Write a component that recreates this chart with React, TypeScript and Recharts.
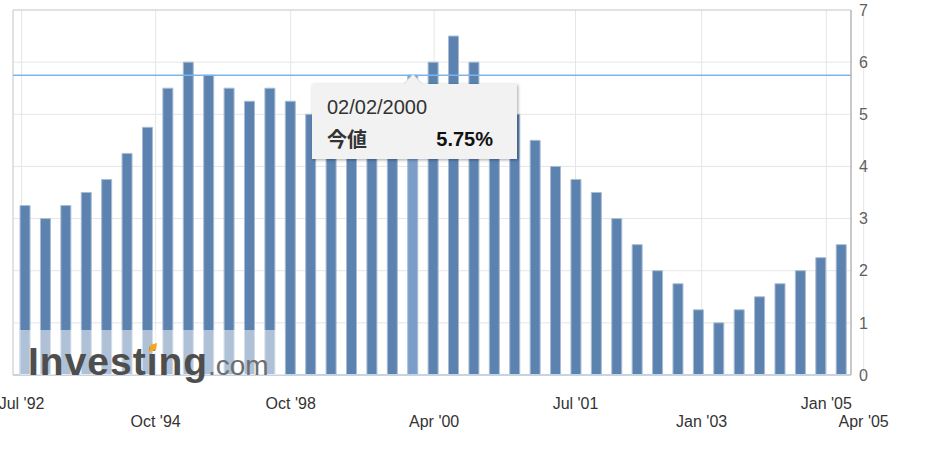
import {
  Bar,
  BarChart,
  CartesianGrid,
  Cell,
  ReferenceArea,
  ReferenceLine,
  Tooltip,
  XAxis,
  YAxis,
} from 'recharts';

// Fed funds target rate changes, Jul 1992 – Feb 2005
const dates = [
  '07/02/1992', '09/04/1992', '02/04/1994', '03/22/1994', '04/18/1994', '05/17/1994',
  '08/16/1994', '11/15/1994', '02/01/1995', '07/06/1995', '12/19/1995', '01/31/1996',
  '03/25/1997', '09/29/1998', '10/15/1998', '11/17/1998', '06/30/1999', '08/24/1999',
  '11/16/1999', '02/02/2000', '03/21/2000', '05/16/2000', '01/03/2001', '01/31/2001',
  '03/20/2001', '04/18/2001', '05/15/2001', '06/27/2001', '08/21/2001', '09/17/2001',
  '10/02/2001', '11/06/2001', '12/11/2001', '11/06/2002', '06/25/2003', '06/30/2004',
  '08/10/2004', '09/21/2004', '11/10/2004', '12/14/2004', '02/02/2005',
];
const rates = [
  3.25, 3.0, 3.25, 3.5, 3.75, 4.25, 4.75, 5.5, 6.0, 5.75, 5.5, 5.25, 5.5, 5.25, 5.0, 4.75,
  5.0, 5.25, 5.5, 5.75, 6.0, 6.5, 6.0, 5.5, 5.0, 4.5, 4.0, 3.75, 3.5, 3.0, 2.5, 2.0, 1.75,
  1.25, 1.0, 1.25, 1.5, 1.75, 2.0, 2.25, 2.5,
];
// x ticks sit between bars (positions in bar-index units)
const xTickPos = [-0.18, 6.39, 13.01, 20.04, 26.97, 33.15, 39.26, 41.09];
const xTickLabels = ["Jul '92", "Oct '94", "Oct '98", "Apr '00", "Jul '01", "Jan '03", "Jan '05", "Apr '05"];
const yTicks = [0, 1, 2, 3, 4, 5, 6, 7];
const xDomain = [-0.6, 40.47];
const activeIdx = 19;
const valueLabel = '今値';

const data = rates.map((rate, idx) => ({ idx, date: dates[idx], rate }));

const FONT = '"Liberation Sans", Arial, sans-serif';
const c = {
  bar: '#5c83af',
  barActive: '#7a9ec9',
  barEdge: '#a9bcd3',
  grid: '#e6e6e6',
  border: '#d0d0d0',
  yAxis: '#b0b0b0',
  xAxis: '#c6d3e3',
  crosshair: '#7cb5ec',
  label: '#333333',
  yLabel: '#606060',
};

function XTick({ x, y, payload }: any) {
  const i = xTickPos.indexOf(payload.value);
  if (i < 0) return null;
  return (
    <text x={x} y={y + (i % 2 ? 44 : 26)} textAnchor="middle" fill={c.label} fontSize={16} fontFamily={FONT}>
      {xTickLabels[i]}
    </text>
  );
}

function TipBox({ active, payload }: any) {
  if (!active || !payload?.length) return null;
  const p = payload[0].payload;
  return (
    <div style={{ position: 'relative', paddingTop: 9, fontFamily: FONT }}>
      <div
        style={{
          position: 'absolute', left: 91, top: -1, width: 0, height: 0,
          borderLeft: '10px solid transparent', borderRight: '10px solid transparent',
          borderBottom: '10px solid #d6d6d6',
        }}
      />
      <div
        style={{
          position: 'absolute', left: 92, top: 0, width: 0, height: 0,
          borderLeft: '9px solid transparent', borderRight: '9px solid transparent',
          borderBottom: '9px solid #f2f2f2',
        }}
      />
      <div
        style={{
          width: 205, height: 75, boxSizing: 'border-box', background: '#f2f2f2',
          boxShadow: '1px 1px 3px rgba(0,0,0,0.35)', padding: '11px 24px 0 15px',
        }}
      >
        <div style={{ fontSize: 20, lineHeight: '24px', color: '#333' }}>{p.date}</div>
        <div
          style={{
            marginTop: 8, display: 'flex', justifyContent: 'space-between',
            fontSize: 20, lineHeight: '24px', fontWeight: 'bold', color: '#111',
          }}
        >
          <span style={{ fontFamily: '"Noto Sans CJK JP", sans-serif', color: '#333' }}>{valueLabel}</span>
          <span>{p.rate.toFixed(2)}%</span>
        </div>
      </div>
    </div>
  );
}

export default function App() {
  return (
    <div style={{ position: 'absolute', left: 0, top: 0, width: 930, height: 456, background: '#fff' }}>
      <BarChart width={930} height={456} data={data} margin={{ top: 10, right: 39, bottom: 21, left: 13 }}>
        <CartesianGrid stroke={c.grid} />
        <ReferenceArea x1={xDomain[0]} x2={xDomain[1]} y1={0} y2={7} fill="none" stroke={c.border} />
        <XAxis
          type="number"
          dataKey="idx"
          domain={xDomain}
          allowDataOverflow
          ticks={xTickPos}
          interval={0}
          tickLine={false}
          axisLine={{ stroke: c.xAxis, strokeWidth: 2 }}
          tick={<XTick />}
          height={60}
        />
        <YAxis
          orientation="right"
          domain={[0, 7]}
          ticks={yTicks}
          interval={0}
          tickLine={false}
          axisLine={{ stroke: c.yAxis }}
          tick={{ fill: c.yLabel, fontSize: 16, fontFamily: FONT, textAnchor: 'start' }}
          width={40}
        />
        <Bar dataKey="rate" barSize={10} fill={c.bar} stroke={c.barEdge} strokeWidth={1} isAnimationActive={false}>
          {data.map((d) => (
            <Cell key={d.idx} fill={d.idx === activeIdx ? c.barActive : c.bar} />
          ))}
        </Bar>
        <ReferenceLine y={rates[activeIdx]} stroke={c.crosshair} strokeWidth={1.5} />
        <Tooltip
          defaultIndex={activeIdx}
          cursor={false}
          position={{ x: 312, y: 75 }}
          content={<TipBox />}
          isAnimationActive={false}
          wrapperStyle={{ outline: 'none' }}
        />
      </BarChart>
      {/* watermark */}
      <svg width={930} height={456} style={{ position: 'absolute', left: 0, top: 0, pointerEvents: 'none' }}>
        <rect x={20} y={330} width={265} height={45} fill="#fff" fillOpacity={0.5} />
        <text x={28} y={375} fontFamily={FONT} fontWeight="bold" fontSize={39} letterSpacing={1} fill="#4e4e4e">
          Investing
        </text>
        <text x={208} y={375} fontFamily={FONT} fontSize={28} fill="#6e6e6e">
          .com
        </text>
        <polygon points="150,345 157,343 156,350 149,352" fill="#f5a623" />
      </svg>
    </div>
  );
}
